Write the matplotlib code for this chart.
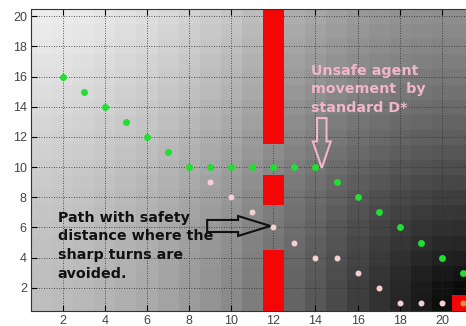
import matplotlib
matplotlib.use("Agg")

import numpy as np
import matplotlib.pyplot as plt
from matplotlib.patches import FancyArrow

# ------------------ DATA ------------------

# grey level of the cost map along the bottom row (x = 1..21)
bottom_row_gray = [190, 188, 185, 180, 175, 170, 163, 155, 147, 138, 125,
                   112, 100, 88, 75, 62, 50, 38, 26, 14, 0]
# grey level of the cost map along the right column (y = 1..20)
right_col_gray = [0, 10, 20, 30, 38, 46, 54, 62, 70, 78, 86, 93, 100, 107,
                  114, 120, 126, 132, 137, 142]

# obstacle cells (red wall at x = 12) and goal cell
obstacle_x = 12
obstacle_rows = [1, 2, 3, 4, 8, 9, 12, 13, 14, 15, 16, 17, 18, 19, 20]
goal_x, goal_y = 21, 1

# standard D* path (green)
dstar_x = [2, 3, 4, 5, 6, 7, 8, 9, 10, 11, 12, 13, 14, 15, 16, 17, 18, 19, 20, 21]
dstar_y = [16, 15, 14, 13, 12, 11, 10, 10, 10, 10, 10, 10, 10, 9, 8, 7, 6, 5, 4, 3]

# path with safety distance (pink)
safe_x = [9, 10, 11, 12, 13, 14, 15, 16, 17, 18, 19, 20]
safe_y = [9, 8, 7, 6, 5, 4, 4, 3, 2, 1, 1, 1]

x_ticks = [2, 4, 6, 8, 10, 12, 14, 16, 18, 20]
y_ticks = [2, 4, 6, 8, 10, 12, 14, 16, 18, 20]

label_unsafe = "Unsafe agent\nmovement  by\nstandard D*"
label_safe = "Path with safety\ndistance where the\nsharp turns are\navoided."

# ------------------ BACKGROUND TABLE ------------------

bx = np.array(bottom_row_gray, dtype=float)
by = np.array(right_col_gray, dtype=float)
gray = np.clip(np.sqrt(bx[None, :] ** 2 + by[:, None] ** 2), 0, 255) / 255.0
rgb = np.dstack([gray, gray, gray])

# ------------------ PLOT ------------------

fig = plt.figure(figsize=(4.66, 3.26), dpi=100)
ax = fig.add_axes([0.0665, 0.0475, 0.9496, 0.926])

ax.imshow(rgb, origin="lower", extent=(0.5, 21.5, 0.5, 20.5),
          aspect="auto", interpolation="nearest", zorder=0)

ax.bar([obstacle_x] * len(obstacle_rows), [1] * len(obstacle_rows),
       bottom=[r - 0.5 for r in obstacle_rows], width=1,
       color="#f50606", zorder=2)
ax.bar([goal_x], [1], bottom=[goal_y - 0.5], width=1, color="#f50606", zorder=2)

ax.plot(dstar_x, dstar_y, "o", color="#22dd33", markersize=5.0,
        markeredgewidth=0, zorder=3)
ax.plot(safe_x, safe_y, "o", color="#f5cfd2", markersize=4.3,
        markeredgewidth=0, zorder=3)
ax.plot([goal_x], [goal_y], "o", color="#c49a3a", markersize=4.3,
        markeredgewidth=0, zorder=3)

# hollow arrows
ax.add_patch(FancyArrow(14.3, 13.25, 0, -3.3, width=0.45, head_width=0.85,
                        head_length=1.75, length_includes_head=True,
                        facecolor="none", edgecolor="#f2b6c9", linewidth=1.5,
                        zorder=4))
ax.add_patch(FancyArrow(8.86, 6.1, 3.0, 0, width=0.8, head_width=1.32,
                        head_length=1.53, length_includes_head=True,
                        facecolor="none", edgecolor="#111111", linewidth=1.5,
                        zorder=4))

ax.text(13.8, 15.15, label_unsafe, color="#f2b6c9", fontsize=10.3,
        fontweight="bold", ha="left", va="center", linespacing=1.42, zorder=5)
ax.text(1.76, 4.8, label_safe, color="#111111", fontsize=10.3,
        fontweight="bold", ha="left", va="center", linespacing=1.42, zorder=5)

ax.set_xlim(0.5, 21.5)
ax.set_ylim(0.5, 20.5)
ax.set_xticks(x_ticks)
ax.set_yticks(y_ticks)
ax.grid(True, linestyle=(0, (1, 2)), color="#2a2a2a", linewidth=0.6)
ax.tick_params(direction="in", length=4, top=True, right=True,
               labelsize=9, labelcolor="#444444", pad=3)
for lab in ax.get_xticklabels() + ax.get_yticklabels():
    lab.set_fontfamily("Liberation Sans")
for sp in ax.spines.values():
    sp.set_color("#333333")
    sp.set_linewidth(0.8)

fig.savefig("out.png", dpi=100)
plt.close(fig)
